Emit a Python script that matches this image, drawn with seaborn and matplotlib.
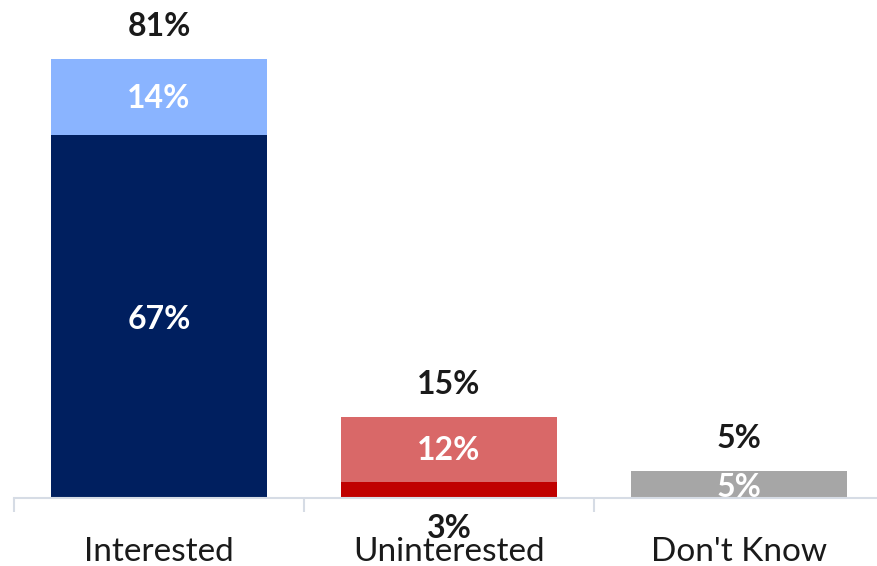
import pandas as pd
import seaborn as sns
import matplotlib.pyplot as plt

categories = ["Interested", "Uninterested", "Don't Know"]
strong = [67, 3, 5]
somewhat = [14, 12, 0]
totals = [81, 15, 5]

strong_colors = ["#001F5F", "#C00000", "#A6A6A6"]
somewhat_colors = ["#8AB4FF", "#D96868", "#A6A6A6"]

df = pd.DataFrame({"cat": categories, "strong": strong, "somewhat": somewhat, "total": totals})

sns.set_style("white")
plt.rcParams["font.family"] = ["Lato", "DejaVu Sans"]

fig = plt.figure(figsize=(8.77, 5.66), dpi=100)
ax = fig.add_axes([14 / 877, 68 / 566, 870 / 877, 488 / 566])

# full stack first, then the bottom segment on top of it
sns.barplot(data=df, x="cat", y="total", hue="cat", palette=somewhat_colors,
            width=0.745, saturation=1, legend=False, linewidth=0, ax=ax)
sns.barplot(data=df, x="cat", y="strong", hue="cat", palette=strong_colors,
            width=0.745, saturation=1, legend=False, linewidth=0, ax=ax)

ax.set_ylim(0, 90)
ax.set_xlim(-0.5, 2.5)
ax.set_xlabel("")
ax.set_ylabel("")
ax.set_yticks([])
for s in ["left", "right", "top"]:
    ax.spines[s].set_visible(False)
ax.spines["bottom"].set_color("#D6DCE5")
ax.spines["bottom"].set_linewidth(1.5)

ax.set_xticks(range(3))
ax.set_xticklabels(categories, fontsize=24, color="#1a1a1a")
ax.tick_params(axis="x", which="major", length=0, pad=28)
ax.set_xticks([-0.5, 0.5, 1.5, 2.5], minor=True)
ax.tick_params(axis="x", which="minor", bottom=True, length=10, width=1.5, color="#D6DCE5")

# labels (offsets in points; 72/100 px)
lab = dict(ha="center", va="center", fontsize=23, fontweight="bold")
for i in range(3):
    ax.annotate(f"{totals[i]}%", (i, totals[i]), xytext=(0, 23), textcoords="offset points",
                color="#1a1a1a", **lab)
    if somewhat[i] > 0:
        ax.annotate(f"{somewhat[i]}%", (i, strong[i] + somewhat[i] / 2), xytext=(0, -1),
                    textcoords="offset points", color="white", **lab)
        if strong[i] >= 5:
            ax.annotate(f"{strong[i]}%", (i, strong[i] / 2), xytext=(0, -2),
                        textcoords="offset points", color="white", **lab)
        else:
            ax.annotate(f"{strong[i]}%", (i, 0), xytext=(0, -22), textcoords="offset points",
                        color="#1a1a1a", **lab)
    else:
        ax.annotate(f"{strong[i]}%", (i, strong[i] / 2), xytext=(0, -2), textcoords="offset points",
                    color="white", **lab)

plt.savefig("out.png", dpi=100)
